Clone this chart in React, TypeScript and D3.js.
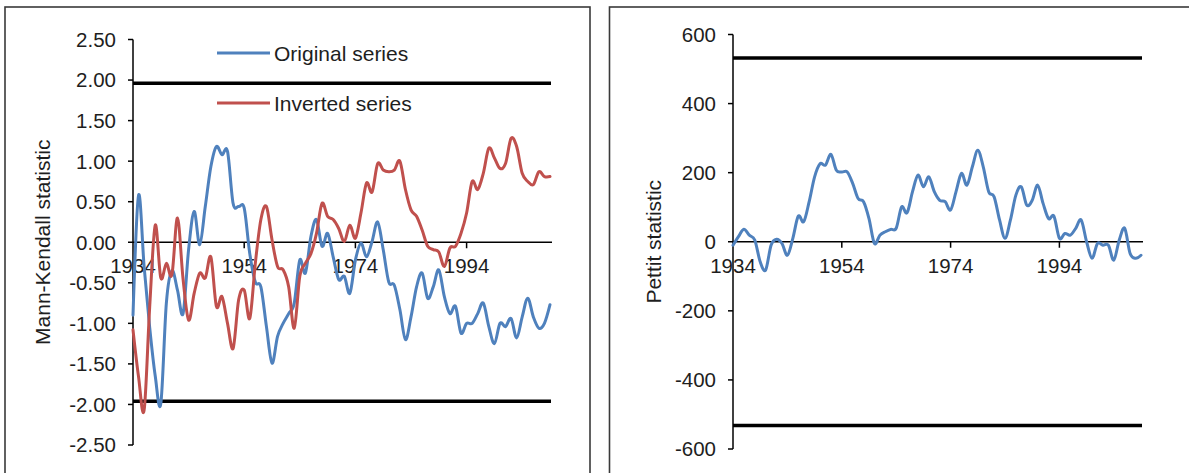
import React from "react";
import * as d3 from "d3";

// Years covered by both tests
const FIRST_YEAR = 1934;
const LAST_YEAR = 2009;
const years = d3.range(FIRST_YEAR, LAST_YEAR + 1);
const yearTicks = [1934, 1954, 1974, 1994];

// Mann-Kendall sequential statistic
const mkTicks = [2.5, 2, 1.5, 1, 0.5, 0, -0.5, -1, -1.5, -2, -2.5];
const originalSeries = [
  -0.9, 0.58, -0.3, -1.05, -1.65, -1.99, -0.75, -0.35, -0.59, -0.88,
  -0.09, 0.38, -0.03, 0.44, 0.93, 1.18, 1.08, 1.12, 0.48, 0.44,
  0.42, -0.14, -0.49, -0.55, -1.04, -1.49, -1.16, -1.0, -0.88, -0.75,
  -0.22, -0.38, 0.07, 0.28, -0.05, 0.11, -0.18, -0.46, -0.42, -0.63,
  -0.22, -0.01, -0.18, 0.01, 0.25, -0.09, -0.49, -0.53, -0.83, -1.2,
  -0.92, -0.55, -0.38, -0.69, -0.55, -0.34, -0.67, -0.88, -0.79, -1.12,
  -1.0, -1.0, -0.88, -0.75, -1.04, -1.25, -1.0, -1.04, -0.94, -1.18,
  -0.92, -0.69, -0.92, -1.06, -1.0, -0.77,
];
const invertedSeries = [
  -1.08, -1.66, -2.07, -0.8, 0.21, -0.44, -0.26, -0.4, 0.3, -0.45,
  -0.96, -0.63, -0.38, -0.44, -0.18, -0.79, -0.67, -1.0, -1.31, -0.71,
  -0.59, -0.94, -0.26, 0.28, 0.44, 0.03, -0.3, -0.34, -0.55, -1.06,
  -0.42, -0.26, -0.14, 0.11, 0.48, 0.32, 0.28, 0.17, 0.01, 0.21,
  0.05, 0.36, 0.73, 0.62, 0.97, 0.89, 0.87, 0.89, 1.0, 0.65,
  0.4, 0.32, 0.15, -0.05, -0.09, -0.12, -0.3, -0.07, -0.05, 0.11,
  0.36, 0.75, 0.65, 0.85, 1.16, 1.04, 0.91, 0.97, 1.28, 1.18,
  0.85, 0.75, 0.71, 0.87, 0.81, 0.81,
];
const MK_CRITICAL = 1.96;

// Pettitt statistic
const pettittTicks = [600, 400, 200, 0, -200, -400, -600];
const pettittSeries = [
  -10, 15, 36, 19, 5, -58, -82, -10, 7, -5,
  -39, 10, 74, 58, 116, 188, 226, 222, 253, 207,
  202, 202, 169, 125, 116, 67, -5, 19, 29, 36,
  39, 101, 84, 145, 193, 159, 188, 145, 120, 116,
  92, 145, 198, 164, 217, 265, 217, 145, 130, 63,
  10, 63, 135, 159, 106, 120, 164, 111, 67, 74,
  10, 24, 19, 39, 63, 0, -48, -5, -10, -10,
  -53, 5, 39, -34, -48, -39,
];
const PETTITT_CRITICAL = 532;

const BLUE = "#4F81BD";
const RED = "#C0504D";
const FONT = "'Liberation Sans', Arial, Helvetica, sans-serif";
const TEXT = "#1e1e1e";

const locale = d3.formatLocale({
  decimal: ".",
  thousands: ",",
  grouping: [3],
  currency: ["", ""],
  minus: "-",
});

type Series = { name: string; values: number[]; color: string };

type PanelProps = {
  frame: [number, number, number, number];
  xRange: [number, number];
  yDomain: [number, number];
  yRange: [number, number];
  ticks: number[];
  tickFormat: (v: number) => string;
  series: Series[];
  critical: number;
  title: string;
  titleX: number;
  legend?: { x0: number; x1: number; ys: number[] };
};

function Panel(p: PanelProps) {
  const x = d3.scaleLinear().domain([FIRST_YEAR, LAST_YEAR]).range(p.xRange);
  const y = d3.scaleLinear().domain(p.yDomain).range(p.yRange);
  const line = d3
    .line<number>()
    .x((_, i) => x(years[i]))
    .y((v) => y(v))
    .curve(d3.curveCardinal.tension(0));
  const ax = x(FIRST_YEAR);
  const xEnd = x(LAST_YEAR);
  const y0 = y(0);
  const [fx, fy, fw, fh] = p.frame;
  const yMid = (y(p.yDomain[0]) + y(p.yDomain[1])) / 2;

  return (
    <g>
      <rect x={fx} y={fy} width={fw} height={fh} fill="#fff" stroke="#3a3a3a" strokeWidth={1.6} />

      {/* critical bounds */}
      {[p.critical, -p.critical].map((c) => (
        <line key={c} x1={ax} x2={xEnd + 1} y1={y(c)} y2={y(c)} stroke="#000" strokeWidth={3.6} />
      ))}

      {/* value axis */}
      <line x1={ax} x2={ax} y1={y(p.yDomain[1])} y2={y(p.yDomain[0])} stroke="#000" strokeWidth={1.5} />
      {p.ticks.map((t) => (
        <g key={t}>
          <line x1={ax - 5} x2={ax} y1={y(t)} y2={y(t)} stroke="#000" strokeWidth={1.5} />
          <text
            x={ax - 17}
            y={y(t)}
            dy="0.36em"
            textAnchor="end"
            fontSize={20.5}
            fontFamily={FONT}
            fill={TEXT}
          >
            {p.tickFormat(t)}
          </text>
        </g>
      ))}

      {/* year axis along zero */}
      <line x1={ax} x2={xEnd + 2} y1={y0} y2={y0} stroke="#000" strokeWidth={1.5} />
      {yearTicks.map((yr) => (
        <g key={yr}>
          {yr !== FIRST_YEAR && (
            <line x1={x(yr)} x2={x(yr)} y1={y0} y2={y0 + 6} stroke="#000" strokeWidth={1.5} />
          )}
          <text
            x={x(yr)}
            y={273}
            textAnchor="middle"
            fontSize={20.5}
            fontFamily={FONT}
            fill={TEXT}
          >
            {yr}
          </text>
        </g>
      ))}

      {p.series.map((s) => (
        <path
          key={s.name}
          d={line(s.values) ?? ""}
          fill="none"
          stroke={s.color}
          strokeWidth={3}
          strokeLinejoin="round"
          strokeLinecap="round"
        />
      ))}

      {p.legend &&
        p.series.map((s, i) => (
          <g key={s.name}>
            <line
              x1={p.legend!.x0}
              x2={p.legend!.x1}
              y1={p.legend!.ys[i]}
              y2={p.legend!.ys[i]}
              stroke={s.color}
              strokeWidth={3}
            />
            <text
              x={p.legend!.x1 + 4}
              y={p.legend!.ys[i]}
              dy="0.36em"
              fontSize={21}
              fontFamily={FONT}
              fill={TEXT}
            >
              {s.name}
            </text>
          </g>
        ))}

      <text
        transform={`translate(${p.titleX},${yMid}) rotate(-90)`}
        textAnchor="middle"
        dy="0.36em"
        fontSize={21}
        fontFamily={FONT}
        fill={TEXT}
      >
        {p.title}
      </text>
    </g>
  );
}

export default function App() {
  const fmt2 = locale.format(".2f");
  const fmt0 = locale.format("d");
  return (
    <svg
      width={1189}
      height={473}
      style={{ position: "absolute", left: 0, top: 0, background: "#fff" }}
    >
      <rect width={1189} height={473} fill="#fff" />
      <Panel
        frame={[5, 7, 585, 480]}
        xRange={[133, 550]}
        yDomain={[-2.5, 2.5]}
        yRange={[445, 39.5]}
        ticks={mkTicks}
        tickFormat={fmt2}
        series={[
          { name: "Original series", values: originalSeries, color: BLUE },
          { name: "Inverted series", values: invertedSeries, color: RED },
        ]}
        critical={MK_CRITICAL}
        title="Mann-Kendall statistic"
        titleX={42}
        legend={{ x0: 217, x1: 270, ys: [53, 103] }}
      />
      <Panel
        frame={[609.5, 7, 600, 480]}
        xRange={[733, 1141]}
        yDomain={[-600, 600]}
        yRange={[449, 34.5]}
        ticks={pettittTicks}
        tickFormat={fmt0}
        series={[{ name: "Pettitt", values: pettittSeries, color: BLUE }]}
        critical={PETTITT_CRITICAL}
        title="Pettit statistic"
        titleX={653}
      />
    </svg>
  );
}
